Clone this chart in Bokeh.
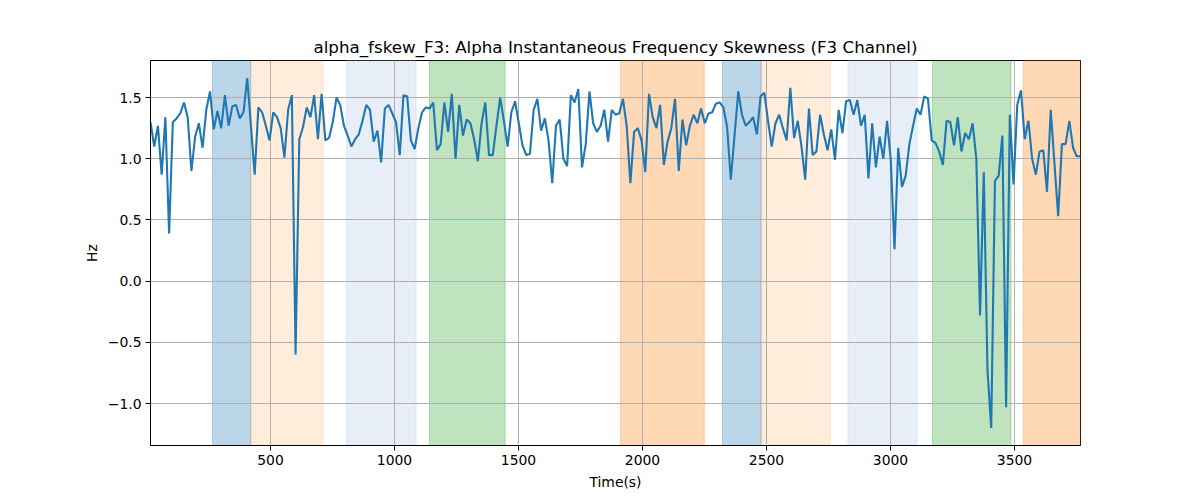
from bokeh.plotting import figure
from bokeh.models import BoxAnnotation, Range1d, FixedTicker, ColumnDataSource, CustomJSTickFormatter
from bokeh.embed import file_html
from bokeh.resources import INLINE

# Alpha instantaneous frequency skewness (Hz), sampled every 15 s starting at t=16 s
hz = [
    1.30, 1.10, 1.27, 0.87, 1.34, 0.39, 1.30, 1.33, 1.37, 1.46,
    1.34, 0.90, 1.18, 1.29, 1.09, 1.40, 1.55, 1.24, 1.39, 1.25,
    1.52, 1.27, 1.43, 1.44, 1.33, 1.38, 1.66, 1.27, 0.87, 1.42,
    1.38, 1.27, 1.15, 1.38, 1.34, 1.25, 1.01, 1.40, 1.52, -0.60,
    1.16, 1.26, 1.42, 1.34, 1.52, 1.16, 1.53, 1.15, 1.17, 1.30,
    1.50, 1.44, 1.27, 1.19, 1.10, 1.16, 1.20, 1.31, 1.44, 1.40,
    1.14, 1.23, 0.97, 1.41, 1.44, 1.37, 1.30, 1.03, 1.52, 1.51,
    1.15, 1.08, 1.25, 1.38, 1.42, 1.41, 1.46, 1.07, 1.12, 1.46,
    1.22, 1.53, 1.00, 1.44, 1.19, 1.32, 1.29, 1.16, 0.98, 1.29,
    1.46, 1.03, 1.03, 1.27, 1.50, 1.31, 1.10, 1.38, 1.47, 1.29,
    1.11, 1.03, 1.04, 1.40, 1.49, 1.23, 1.33, 1.15, 0.80, 1.27,
    1.32, 1.00, 0.94, 1.52, 1.46, 1.57, 0.93, 1.12, 1.55, 1.29,
    1.22, 1.27, 1.40, 1.14, 1.40, 1.36, 1.37, 1.49, 1.27, 0.80,
    1.22, 1.25, 1.15, 0.89, 1.53, 1.34, 1.25, 1.44, 0.95, 1.14,
    1.25, 1.49, 0.90, 1.32, 1.11, 1.27, 1.36, 1.29, 1.41, 1.29,
    1.37, 1.38, 1.45, 1.46, 1.42, 1.26, 0.83, 1.19, 1.55, 1.36,
    1.27, 1.30, 1.34, 1.20, 1.51, 1.54, 1.31, 1.10, 1.29, 1.36,
    1.25, 1.15, 1.58, 1.17, 1.31, 1.10, 0.83, 1.41, 1.03, 1.06,
    1.36, 1.20, 1.07, 1.24, 0.99, 1.40, 1.21, 1.47, 1.48, 1.36,
    1.48, 1.27, 1.36, 0.84, 1.29, 0.93, 1.18, 1.00, 1.31, 0.99,
    0.26, 1.09, 0.77, 0.86, 1.12, 1.27, 1.41, 1.36, 1.51, 1.49,
    1.15, 1.13, 1.06, 0.95, 1.31, 1.30, 1.11, 1.34, 1.06, 1.21,
    1.16, 1.29, 1.00, -0.28, 0.89, -0.73, -1.20, 0.82, 0.86, 1.19,
    -1.03, 1.36, 0.79, 1.44, 1.56, 1.16, 1.31, 1.00, 0.87, 1.06,
    1.07, 0.73, 1.40, 0.96, 0.53, 1.12, 1.12, 1.31, 1.09, 1.02,
    1.02,
]
t_start = 16
t_step = 15
time_s = [t_start + t_step * i for i in range(len(hz))]

# shaded intervals (seconds)
span_start = [266, 420, 806, 1141, 1911, 2322, 2478, 2828, 3169, 3535]
span_end = [420, 712, 1087, 1446, 2249, 2478, 2757, 3107, 3486, 3766]
span_color = ["#1f77b4", "#ff7f0e", "#aec7e8", "#2ca02c", "#ff7f0e",
              "#1f77b4", "#ff7f0e", "#aec7e8", "#2ca02c", "#ff7f0e"]
span_alpha = [0.3, 0.15, 0.3, 0.3, 0.3, 0.3, 0.15, 0.3, 0.3, 0.3]

x_ticks = [500, 1000, 1500, 2000, 2500, 3000, 3500]
y_ticks = [-1.0, -0.5, 0.0, 0.5, 1.0, 1.5]

FONT = "DejaVu Sans"

p = figure(
    frame_width=930, frame_height=385,
    x_range=Range1d(time_s[0], time_s[-1]),
    y_range=Range1d(-1.343, 1.803),
    output_backend="svg", toolbar_location=None,
    title="alpha_fskew_F3: Alpha Instantaneous Frequency Skewness (F3 Channel)",
    min_border_left=150, min_border_right=112,
    min_border_top=60, min_border_bottom=47,
    background_fill_color="white", border_fill_color="white",
)

p.title.align = "center"
p.title.text_font = FONT
p.title.text_font_size = "16.7px"
p.title.text_font_style = "normal"
p.title.text_color = "black"
p.title.standoff = 8

for s, e, c, a in zip(span_start, span_end, span_color, span_alpha):
    box = BoxAnnotation(left=s, right=e, fill_color=c, fill_alpha=a,
                        line_color=c, line_alpha=a, line_width=1, level="image")
    p.add_layout(box)

src = ColumnDataSource(dict(t=time_s, v=hz))
p.line("t", "v", source=src, line_color="#1f77b4", line_width=2.1)

p.grid.grid_line_color = "#b0b0b0"
p.grid.grid_line_width = 1
p.xgrid.ticker = FixedTicker(ticks=x_ticks)
p.ygrid.ticker = FixedTicker(ticks=y_ticks)

p.xaxis.ticker = FixedTicker(ticks=x_ticks)
p.yaxis.ticker = FixedTicker(ticks=y_ticks)
p.yaxis.formatter = CustomJSTickFormatter(code="return tick.toFixed(1).replace('-', '\u2212');")

for ax in (p.xaxis[0], p.yaxis[0]):
    ax.axis_line_color = "black"
    ax.axis_line_width = 1
    ax.major_tick_line_color = "black"
    ax.major_tick_out = 5
    ax.major_tick_in = 0
    ax.minor_tick_out = 0
    ax.minor_tick_in = 0
    ax.major_label_text_font = FONT
    ax.major_label_text_font_size = "13.9px"
    ax.major_label_text_color = "black"
    ax.axis_label_text_font = FONT
    ax.axis_label_text_font_size = "13.9px"
    ax.axis_label_text_font_style = "normal"
    ax.axis_label_text_color = "black"
    ax.major_label_standoff = 4

p.xaxis.axis_label = "Time(s)"
p.yaxis.axis_label = "Hz"
p.xaxis.axis_label_standoff = 6
p.yaxis.axis_label_standoff = 5

p.outline_line_color = "black"
p.outline_line_width = 1
p.outline_line_alpha = 1

open("out.html", "w").write(file_html(p, INLINE))
